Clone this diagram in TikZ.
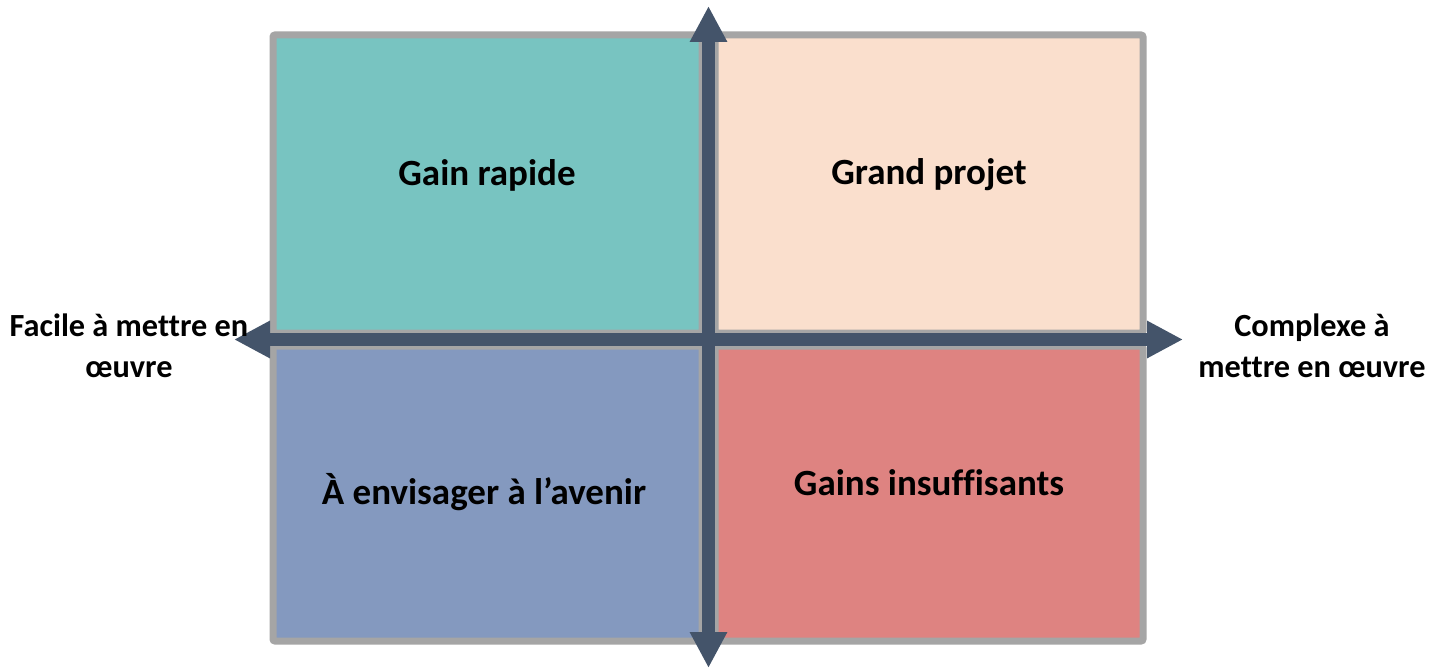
\documentclass[tikz,border=0pt]{standalone}
\usepackage{fontspec}
\setmainfont{Carlito}[Ligatures=CommonOff]
\usetikzlibrary{arrows.meta}
\definecolor{axisc}{HTML}{44546A}
\definecolor{frame}{HTML}{A5A5A5}
\definecolor{teal}{HTML}{78C4C1}
\definecolor{peach}{HTML}{FADFCD}
\definecolor{blueq}{HTML}{8499BF}
\definecolor{redq}{HTML}{DE8381}
\tikzset{
  quad/.style={draw=frame, line width=7pt, rounded corners=2pt},
  axisboth/.style={draw=axisc, line width=13pt, {Triangle[width=35pt,length=36pt]}-{Triangle[width=35pt,length=36pt]}},
  qlabel/.style={font=\bfseries\fontsize{37}{44}\selectfont, text=black, inner sep=0pt},
  slabel/.style={font=\bfseries\fontsize{32.3}{41}\selectfont, text=black, align=center, inner sep=0pt},
}
\begin{document}
\begin{tikzpicture}[x=1pt,y=-1pt]
\useasboundingbox (0,0) rectangle (1442,669);
\fill[white] (0,0) rectangle (1442,669);
% quadrants
\draw[quad, fill=teal] (273,35) rectangle (702,333);
\draw[quad, fill=peach] (715,35) rectangle (1143,333);
\draw[quad, fill=blueq] (273,346) rectangle (702,641);
\draw[quad, fill=redq] (715,346) rectangle (1143,641);
% axes
\coordinate (top) at (708.5,6);
\coordinate (bot) at (708.5,668);
\coordinate (left) at (234,339.5);
\coordinate (right) at (1183,339.5);
\draw[axisboth] (top) -- (bot);
\draw[axisboth] (left) -- (right);
% labels
\node[qlabel] (q1) at (487,175) {Gain rapide};
\node[qlabel] (q2) at (929,175) {Grand projet};
\node[qlabel] (q3) at (484,492) {À envisager à l’avenir};
\node[qlabel] (q4) at (929,483) {Gains insuffisants};
\node[slabel] (l) at (129,346) {Facile à mettre en\\œuvre};
\node[slabel] (r) at (1312,346) {Complexe à\\mettre en œuvre};
\end{tikzpicture}
\end{document}
